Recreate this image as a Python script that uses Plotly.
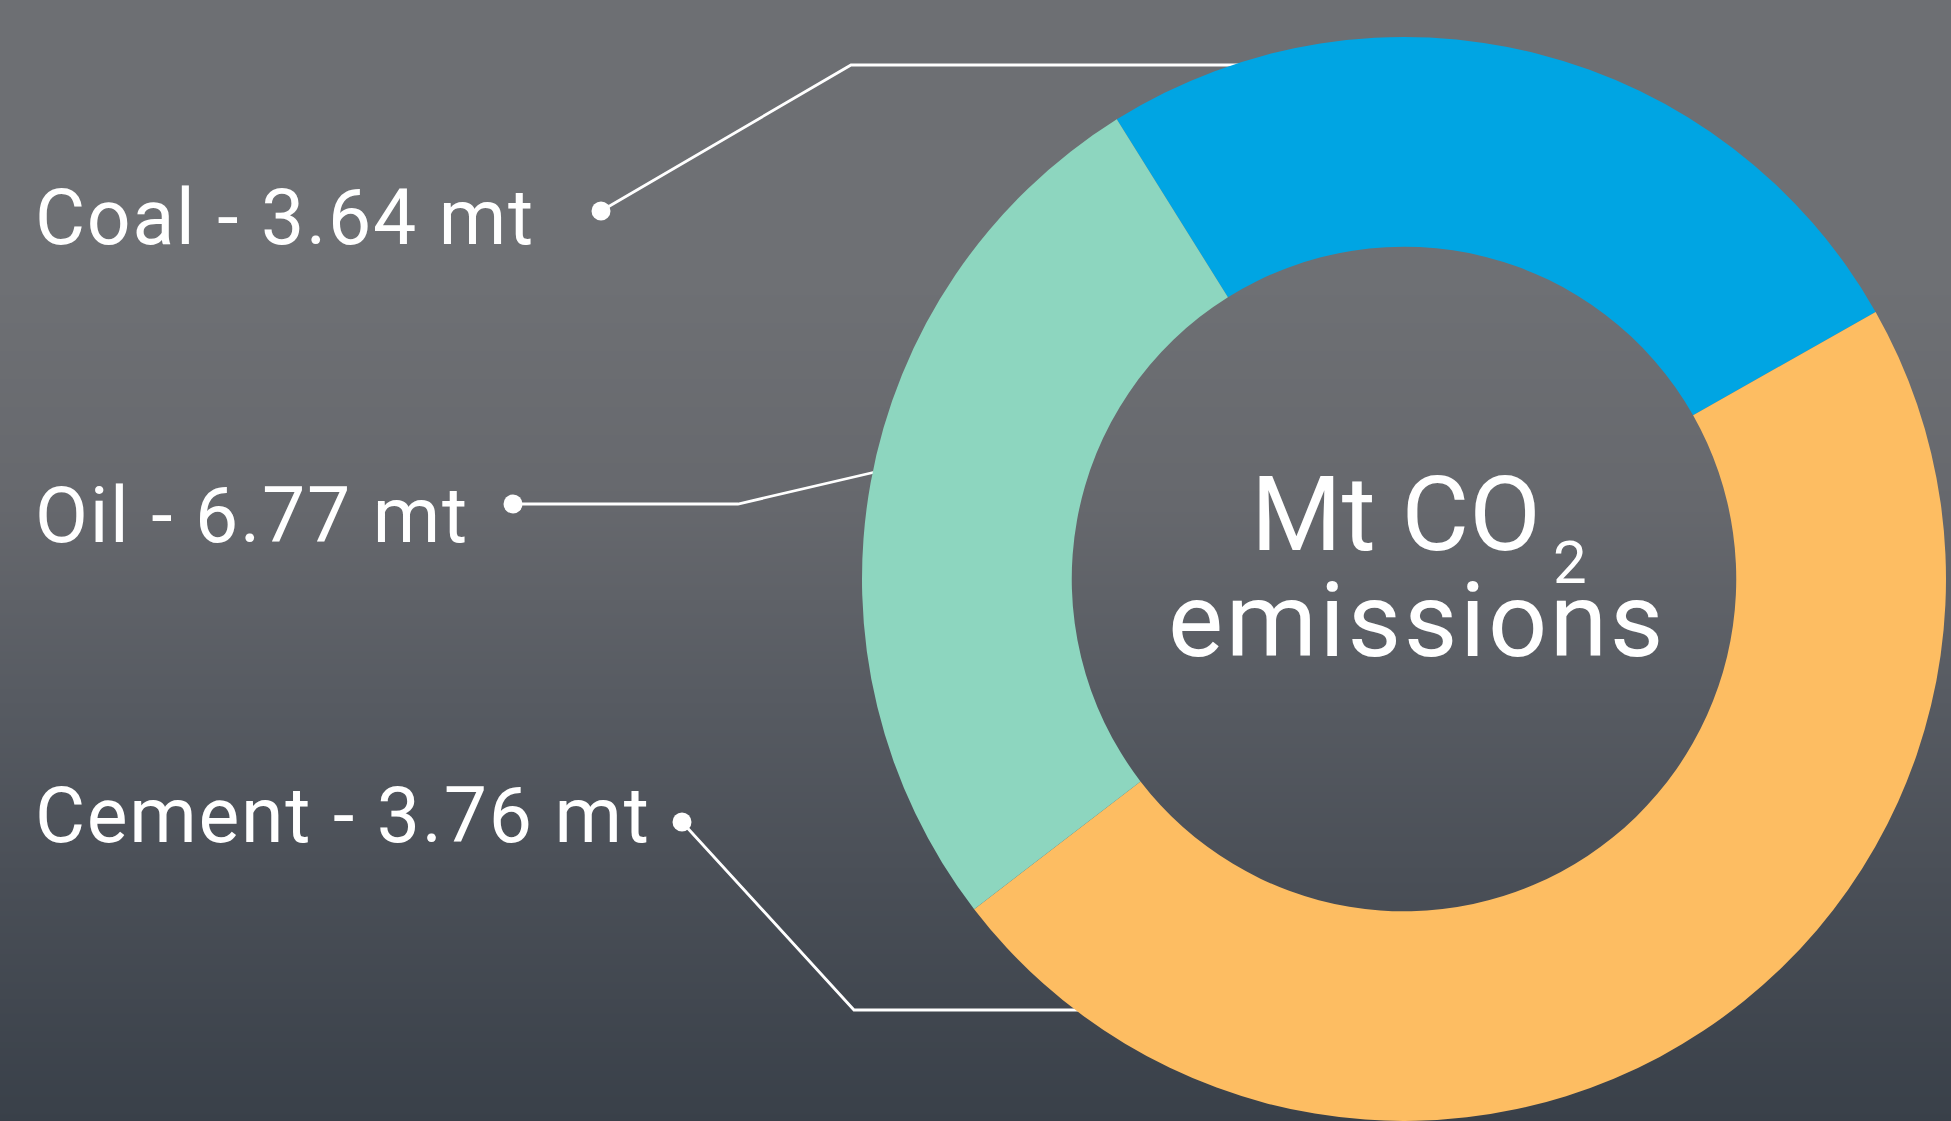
import plotly.graph_objects as go

W, H = 1951, 1121

# ---- data ----
sources = ["Coal", "Oil", "Cement"]
emissions_mt = [3.64, 6.77, 3.76]
slice_colors = ["#00a5e3", "#fdbd62", "#8dd6bf"]
label_texts = ["Coal - 3.64 mt", "Oil - 6.77 mt", "Cement - 3.76 mt"]

# background gradient stops (fraction from top, colour)
bg_stops = [0.0, 0.25, 0.45, 0.62, 0.78, 1.0]
bg_cols = ["#6d6f73", "#6e7074", "#66686d", "#575b62", "#4a4f57", "#394049"]

# leader lines (pixel coords from top-left)
leaders = [
    [(601, 211), (851, 65), (1300, 65)],
    [(513, 504), (738, 504), (871, 473), (930, 459)],
    [(682, 822), (854, 1010), (1150, 1010)],
]
label_pos = [(33, 218), (33, 516), (33, 816)]

fig = go.Figure()

# background gradient as heatmap
rows = 120
ys = [H * i / (rows - 1) for i in range(rows)]
fig.add_trace(go.Heatmap(
    x=[0, W], y=ys,
    z=[[y / H, y / H] for y in ys],
    colorscale=[[s, c] for s, c in zip(bg_stops, bg_cols)],
    zmin=0, zmax=1, showscale=False, hoverinfo="skip", zsmooth="best",
))

for pts in leaders:
    fig.add_trace(go.Scatter(
        x=[p[0] for p in pts], y=[p[1] for p in pts], mode="lines",
        line=dict(color="white", width=2.8), hoverinfo="skip", showlegend=False,
    ))
    fig.add_trace(go.Scatter(
        x=[pts[0][0]], y=[pts[0][1]], mode="markers",
        marker=dict(color="white", size=19), hoverinfo="skip", showlegend=False,
    ))

cx, r = 1404, 542
fig.add_trace(go.Pie(
    labels=sources, values=emissions_mt,
    marker=dict(colors=slice_colors, line=dict(width=0)),
    hole=0.613, sort=False, direction="clockwise", rotation=-32,
    textinfo="none", hoverinfo="label+value", showlegend=False,
    domain=dict(x=[(cx - r) / W, (cx + r) / W], y=[0, 2 * r / H]),
))

annotations = []
for t, (x, y) in zip(label_texts, label_pos):
    annotations.append(dict(
        text='<span style="letter-spacing:1.7px">' + t + "</span>",
        x=x, y=y, xref="x", yref="y", xanchor="left", yanchor="middle",
        showarrow=False, font=dict(family="Roboto", size=77, color="white"),
    ))
annotations.append(dict(
    text="Mt CO", x=1396, y=452, xref="x", yref="y",
    xanchor="center", yanchor="top", showarrow=False,
    font=dict(family="Roboto", size=104, color="white"),
))
annotations.append(dict(
    text="2", x=1551, y=562, xref="x", yref="y",
    xanchor="left", yanchor="middle", showarrow=False,
    font=dict(family="Roboto", size=60, color="white"),
))
annotations.append(dict(
    text='<span style="letter-spacing:2.6px">emissions</span>',
    x=1417, y=620, xref="x", yref="y",
    xanchor="center", yanchor="middle", showarrow=False,
    font=dict(family="Roboto", size=104, color="white"),
))

fig.update_layout(
    width=W, height=H, margin=dict(l=0, r=0, t=0, b=0),
    paper_bgcolor="#55595f", plot_bgcolor="#55595f",
    xaxis=dict(range=[0, W], visible=False, fixedrange=True),
    yaxis=dict(range=[H, 0], visible=False, fixedrange=True),
    annotations=annotations, showlegend=False,
)

fig.write_html("out.html")
